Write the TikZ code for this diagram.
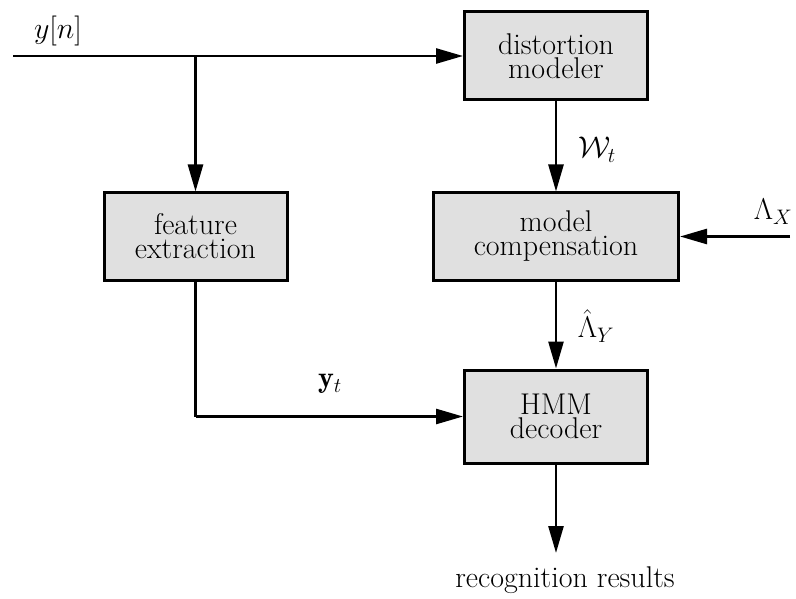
\RequirePackage{fix-cm}
\documentclass[tikz,border=0pt]{standalone}
\usepackage{amsmath}
\usepackage{fontspec}
\usetikzlibrary{arrows.meta}
\begin{document}
\begin{tikzpicture}[x=1pt,y=-1pt,
  every node/.style={font=\fontsize{30}{24}\selectfont},
  blockbox/.style={draw=black,line width=3pt,fill=black!12,rectangle,align=center,inner sep=0pt},
  flow/.style={line width=2.6pt,-{Triangle[length=27pt,width=15pt]}},
  wire/.style={line width=2.6pt}]
\useasboundingbox (0,0) rectangle (796,599);
\node[blockbox,minimum width=183pt,minimum height=88pt] (dm) at (556,56) {distortion\\modeler};
\node[blockbox,minimum width=183pt,minimum height=87pt] (fe) at (195.5,236.5) {feature\\extraction};
\node[blockbox,minimum width=245pt,minimum height=87pt] (mc) at (556,236.5) {model\\compensation};
\node[blockbox,minimum width=183pt,minimum height=93pt] (hd) at (556,416.5) {HMM\\decoder};
\coordinate (in) at (13,56);
\coordinate (br) at (195.5,56);
\coordinate (lx) at (790,236.5);
\coordinate (corner) at (195.5,416.5);
\coordinate (out) at (556,553);
\draw[flow] (in) -- (dm.west);
\draw[flow] (br) -- (fe.north);
\draw[flow] (dm.south) -- (mc.north);
\draw[flow] (lx) -- (mc.east);
\draw[flow] (mc.south) -- (hd.north);
\draw[wire] (fe.south) -- (corner);
\draw[flow] (corner) -- (hd.west);
\draw[flow] (hd.south) -- (out);
\node (lyn) at (58,31) {$y[n]$};
\node (lwt) at (597,150) {$\mathcal{W}_t$};
\node (llx) at (773,212) {$\Lambda_X$};
\node (lly) at (596,326) {$\hat{\Lambda}_Y$};
\node (lyt) at (330,384) {$\mathbf{y}_t$};
\node (res) at (565,580) {recognition results};
\end{tikzpicture}
\end{document}
